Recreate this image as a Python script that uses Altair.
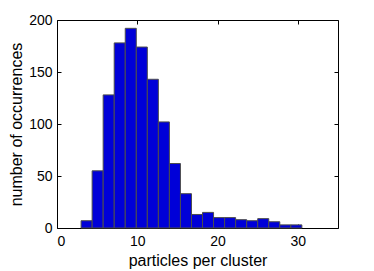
import altair as alt
import pandas as pd

# histogram bin edges and counts
bin_edges = [3.0, 4.375, 5.75, 7.125, 8.5, 9.875, 11.25, 12.625, 14.0, 15.375,
             16.75, 18.125, 19.5, 20.875, 22.25, 23.625, 25.0, 26.375, 27.75,
             29.125, 30.5]
counts = [7, 55, 128, 178, 192, 174, 143, 102, 62, 33,
          13, 15, 10, 10, 8, 7, 9, 6, 3, 3]
x_ticks = [0, 10, 20, 30]
y_ticks = [0, 50, 100, 150, 200]

df = pd.DataFrame({"start": bin_edges[:-1], "end": bin_edges[1:], "count": counts})

FONT = "Liberation Sans"
xs = alt.Scale(domain=[0, 35], nice=False, zero=False, padding=0)
ys = alt.Scale(domain=[0, 200], nice=False, padding=0)

base = alt.Chart(df)

# main layer: bars, labels, titles and inward ticks on bottom / left
bars = base.mark_bar(color="#0000D8", stroke="#4d4d4d", strokeWidth=1,
                     orient="vertical").encode(
    x=alt.X("start:Q", scale=xs,
            axis=alt.Axis(orient="bottom", values=x_ticks, offset=-4, tickSize=4,
                          tickColor="black", tickWidth=1, domain=False,
                          grid=False, labelPadding=6, labelFontSize=14,
                          labelFont=FONT, labelColor="black",
                          title="particles per cluster", titleFont=FONT,
                          titleFontSize=16, titleFontWeight="normal",
                          titleColor="black", titlePadding=4)),
    x2="end:Q",
    y=alt.Y("count:Q", scale=ys,
            axis=alt.Axis(orient="left", values=y_ticks, offset=-4, tickSize=4,
                          tickColor="black", tickWidth=1, domain=False,
                          grid=False, labelPadding=5, labelFontSize=14,
                          labelFont=FONT, labelColor="black",
                          title="number of occurrences", titleFont=FONT,
                          titleFontSize=16, titleFontWeight="normal",
                          titleColor="black", titlePadding=4)),
    y2=alt.datum(0),
)


def tick_axis(orient, values):
    return alt.Axis(orient=orient, values=values, offset=-4, tickSize=4,
                    tickColor="black", tickWidth=1, labels=False, domain=False,
                    grid=False, title=None)


# mirrored inward ticks on top / right
ticks_tr = base.mark_bar(opacity=0, orient="vertical").encode(
    x=alt.X("start:Q", scale=xs, axis=tick_axis("top", x_ticks)),
    x2="end:Q",
    y=alt.Y("count:Q", scale=ys, axis=tick_axis("right", y_ticks)),
    y2=alt.datum(0),
)

chart = alt.layer(bars, ticks_tr).resolve_axis(
    x="independent", y="independent"
).properties(
    width=281,
    height=208,
    autosize=alt.AutoSizeParams(type="none"),
    padding={"left": 49, "top": 12, "right": 20, "bottom": 43},
    background="white",
).configure_view(stroke="black", strokeWidth=1)

chart.save("out.html", embed_options={"renderer": "svg", "actions": False})
